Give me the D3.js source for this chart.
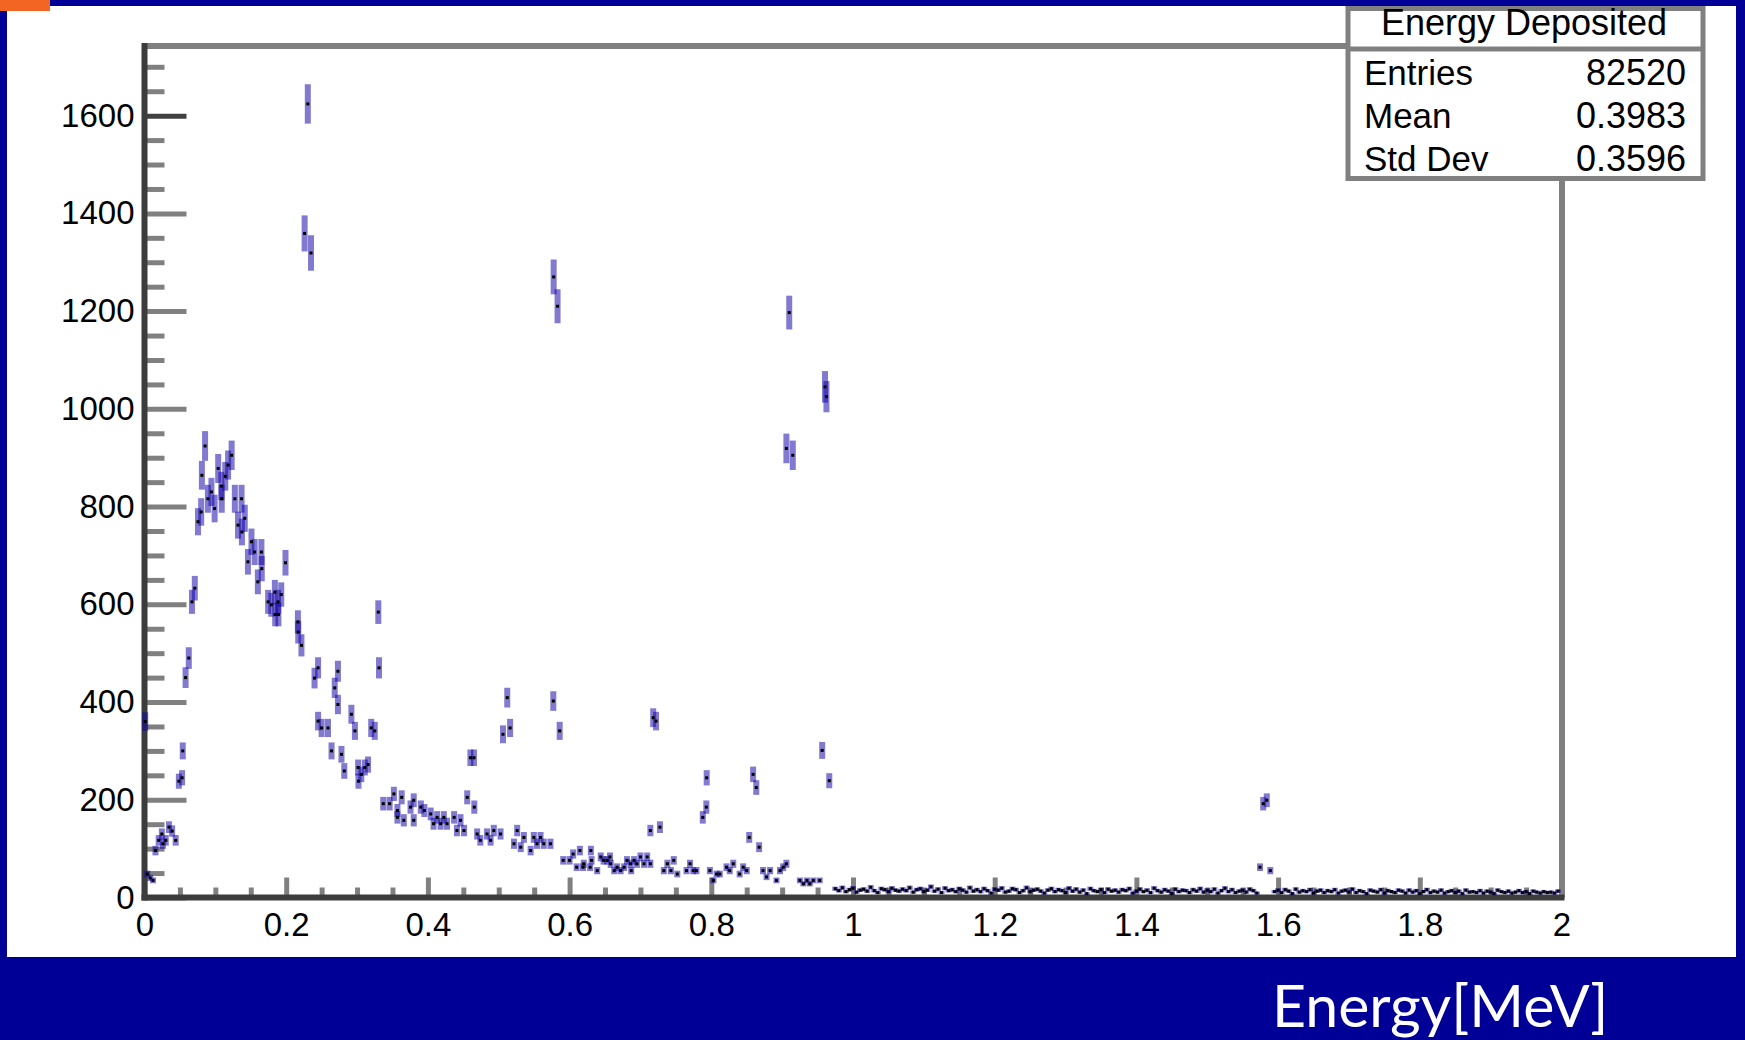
<!DOCTYPE html>
<html>
<head>
<meta charset="utf-8">
<style>

body {
  margin: 0;
  background: #000096;
}

svg {
  display: block;
}

.axis text {
  font-family: "Liberation Sans", Arial, sans-serif;
  font-size: 33px;
  fill: #000;
}

.axis line {
  stroke: #808080;
  stroke-width: 5;
}

.stats text {
  font-family: "Liberation Sans", Arial, sans-serif;
  fill: #000;
}

</style>
</head>
<body>
<svg width="1745" height="1040"></svg>
<script src="https://d3js.org/d3.v7.min.js"></script>
<script>
  // visible bins: bin centre [MeV] and entries
  var energy = [
    0.001, 0.004, 0.008, 0.012, 0.0155, 0.020, 0.0245, 0.026, 0.030, 0.0345, 0.039, 0.044, 0.0485, 0.053, 0.054, 0.058, 0.0625, 0.067, 0.071,
    0.0755, 0.080, 0.081, 0.0855, 0.0895, 0.0945, 0.099, 0.104, 0.1085, 0.109, 0.114, 0.118, 0.123, 0.1275, 0.132, 0.137, 0.1375, 0.1415, 0.146, 0.151, 0.1555, 0.160, 0.165, 0.1655,
    0.1745, 0.179, 0.184, 0.1845, 0.1885, 0.189, 0.193, 0.199, 0.2165, 0.217, 0.2215, 0.226, 0.2305, 0.235, 0.240, 0.245, 0.245, 0.250, 0.259,
    0.264, 0.2685, 0.273, 0.273, 0.278, 0.282, 0.292, 0.297, 0.3015, 0.302, 0.306, 0.311, 0.3155, 0.320, 0.325, 0.330, 0.331,
    0.337, 0.346, 0.352, 0.357, 0.357, 0.363, 0.366, 0.3755, 0.380, 0.380, 0.390, 0.395, 0.404, 0.408, 0.413, 0.418, 0.4225, 0.427, 0.437, 0.441, 0.446, 0.451, 0.4555, 0.460, 0.465, 0.4655, 0.4695,
    0.474, 0.4835, 0.4885, 0.493, 0.5025, 0.506, 0.512, 0.516, 0.5215, 0.526, 0.531, 0.5355, 0.545, 0.5495, 0.554, 0.559, 0.5635, 0.573, 0.577, 0.5775, 0.583, 0.586,
    0.591, 0.600, 0.605, 0.610, 0.6145, 0.619, 0.620, 0.629, 0.630, 0.631, 0.639, 0.644, 0.648, 0.653, 0.657, 0.658, 0.663, 0.667, 0.672, 0.677, 0.681, 0.686, 0.687, 0.691, 0.695, 0.700, 0.705, 0.7095, 0.714, 0.714, 0.718, 0.722, 0.7275,
    0.733, 0.738, 0.743, 0.747, 0.752, 0.765, 0.770, 0.7745, 0.779, 0.788, 0.793, 0.7935, 0.798, 0.803, 0.8075, 0.812, 0.8215, 0.826, 0.831, 0.840, 0.845, 0.850, 0.8535, 0.859, 0.8635, 0.8675,
    0.873, 0.878, 0.883, 0.892, 0.897, 0.9015, 0.906, 0.906, 0.910, 0.915, 0.925, 0.930, 0.935, 0.939, 0.944, 0.953, 0.9565, 0.9605, 0.9625, 0.9665,
    1.5745, 1.579, 1.584, 1.589
  ];

  var counts = [
    360, 48, 40, 35, 96, 117, 130, 110, 117, 144, 136, 117, 238, 245, 300, 450, 490, 605, 633,
    769, 789, 864, 924, 816, 830, 796, 878, 842, 816, 862, 885, 905, 816, 762, 816, 748, 776, 687, 728, 707, 646, 707, 673,
    605, 599, 625, 579, 605, 579, 620, 685, 564, 543, 516, 1359, 1624, 1319, 449, 470, 361, 347, 347,
    300, 429, 463, 395, 293, 259, 375, 341, 266, 238, 252, 266, 272, 347, 341, 584, 470,
    192, 192, 212, 178, 164, 205, 158, 185, 199, 158, 185, 178, 171, 151, 164, 151, 164, 151, 164, 137, 158, 137, 205, 286, 286, 185, 130,
    117, 130, 117, 137, 130, 334, 409, 347, 110, 137, 103, 123, 96, 123, 110, 123, 110, 110, 402, 1270, 1210, 341,
    76, 76, 89, 62, 96, 62, 69, 62, 96, 76, 55, 83, 76, 76, 83, 69, 55, 62, 55, 62, 76, 69, 55, 76, 69, 83, 69, 83, 69, 137, 368, 361, 144,
    55, 69, 55, 76, 48, 55, 69, 55, 55, 164, 185, 245, 55, 35, 48, 48, 62, 55, 69, 48, 62, 55, 123, 252, 225, 103,
    55, 42, 55, 35, 55, 62, 69, 919, 1197, 905, 35, 28, 35, 28, 35, 35, 301, 1045, 1025, 239,
    62, 192, 199, 55
  ];

  // low tail, one value per 0.005 MeV bin starting at 0.975 MeV
  var tailFrom = 0.975,
    binWidth = 0.005;
  var tailCounts = [
    18, 14, 20, 12, 16, 19, 11, 15, 17, 13, 21, 14, 10, 18, 16, 12, 19, 15, 13, 17,
    14, 20, 11, 16, 18, 12, 15, 22, 13, 17, 10, 19, 14, 16, 12, 18, 15, 11, 20, 13,
    16, 12, 18, 14, 9, 17, 15, 19, 11, 13, 18, 16, 10, 14, 20, 12, 15, 17, 13, 9,
    15, 18, 12, 16, 14, 10, 19, 13, 17, 11, 15, 8, 18, 14, 12, 16, 10, 17, 13, 15,
    11, 16, 14, 18, 9, 13, 17, 12, 15, 10, 19, 14, 11, 16, 13, 8, 17, 12, 15, 14,
    10, 16, 13, 18, 11, 15, 12, 17, 9, 14, 19, 12, 16, 10, 13, 15, 11, 17, 14, 9,
    0, 0, 0, 0, 12, 15, 10, 16, 13, 8, 17, 11, 14, 12, 16, 9, 13, 15, 10, 14,
    12, 16, 9, 13, 15, 11, 17, 10, 14, 12, 8, 15, 13, 11, 16, 9, 14, 12, 10, 15,
    13, 9, 15, 11, 14, 8, 12, 16, 10, 13, 11, 15, 9, 12, 14, 10, 13, 8, 15, 11,
    12, 10, 14, 9, 13, 11, 8, 15, 12, 10, 13, 9, 11, 14, 10, 12, 8, 13, 11, 9,
    12, 10, 11, 9, 13
  ];

  var xTicks = [0, 0.2, 0.4, 0.6, 0.8, 1, 1.2, 1.4, 1.6, 1.8, 2];
  var xTickLabels = ["0", "0.2", "0.4", "0.6", "0.8", "1", "1.2", "1.4", "1.6", "1.8", "2"];
  var yTicks = [0, 200, 400, 600, 800, 1000, 1200, 1400, 1600];
  var yTickLabels = ["0", "200", "400", "600", "800", "1000", "1200", "1400", "1600"];

  var histTitle = "Energy Deposited";
  var statNames = ["Entries", "Mean", "Std Dev"];
  var statValues = ["82520", "0.3983", "0.3596"];
  var axisTitle = "Energy[MeV]";

  var svg = d3.select("svg");

  // slide background
  svg.append("rect")
    .attr("x", 7).attr("y", 6)
    .attr("width", 1729).attr("height", 951)
    .attr("fill", "#fff");
  svg.append("rect")
    .attr("width", 50).attr("height", 11)
    .attr("fill", "#f26522");

  var x = d3.scaleLinear().domain([0, 2]).range([144.5, 1561.5]),
    y = d3.scaleLinear().domain([0, 1745]).range([897.5, 44.8]);

  // frame
  svg.append("line")
    .attr("x1", 144.5).attr("x2", 1348).attr("y1", 46).attr("y2", 46)
    .attr("stroke", "#808080").attr("stroke-width", 6);
  svg.append("line")
    .attr("x1", 1562).attr("x2", 1562).attr("y1", 179).attr("y2", 897.5)
    .attr("stroke", "#808080").attr("stroke-width", 6);

  var xMinor = d3.range(0, 2.001, 0.05).filter(function(d) { return Math.abs(d * 5 - Math.round(d * 5)) > 1e-6; }),
    yMinor = d3.range(0, 1745, 50).filter(function(d) { return d % 200 != 0; });

  svg.append("g")
    .attr("class", "axis")
    .attr("transform", "translate(0,897.5)")
    .call(d3.axisBottom(x).tickValues(xMinor).tickSizeInner(-10).tickSizeOuter(0).tickFormat(""))
    .call(function(g) { g.select(".domain").remove(); });

  svg.append("g")
    .attr("class", "axis")
    .attr("transform", "translate(0,897.5)")
    .call(d3.axisBottom(x).tickValues(xTicks).tickSizeInner(-20).tickSizeOuter(0).tickPadding(15)
      .tickFormat(function(d, i) { return xTickLabels[i]; }))
    .call(function(g) { g.select(".domain").remove(); });

  svg.append("g")
    .attr("class", "axis")
    .attr("transform", "translate(144.5,0)")
    .call(d3.axisLeft(y).tickValues(yMinor).tickSizeInner(-20).tickSizeOuter(0).tickFormat(""))
    .call(function(g) { g.select(".domain").remove(); });

  var gy = svg.append("g")
    .attr("class", "axis")
    .attr("transform", "translate(144.5,0)")
    .call(d3.axisLeft(y).tickValues(yTicks).tickSizeInner(-42).tickSizeOuter(0).tickPadding(10)
      .tickFormat(function(d, i) { return yTickLabels[i]; }))
    .call(function(g) { g.select(".domain").remove(); });
  gy.selectAll(".tick").filter(function(d) { return d == 1600; })
    .select("line").style("stroke", "#404040");

  // axis lines
  svg.append("line")
    .attr("x1", 144.5).attr("x2", 144.5).attr("y1", 43).attr("y2", 900.5)
    .attr("stroke", "#3c3c3c").attr("stroke-width", 6);
  svg.append("line")
    .attr("x1", 141.5).attr("x2", 1564.5).attr("y1", 897.5).attr("y2", 897.5)
    .attr("stroke", "#3c3c3c").attr("stroke-width", 6);

  // histogram points with sqrt(N) error bars
  var pts = energy.map(function(e, i) { return {e: e, n: counts[i]}; });
  tailCounts.forEach(function(n, i) {
    if (n > 0) pts.push({e: tailFrom + i * binWidth, n: n});
  });

  var gd = svg.append("g");
  gd.selectAll("rect.err")
    .data(pts)
    .enter().append("rect")
    .attr("class", "err")
    .attr("x", function(d) { return x(d.e) - 3; })
    .attr("width", 6)
    .attr("y", function(d) { return y(d.n + Math.sqrt(d.n)); })
    .attr("height", function(d) { return Math.max(3, y(d.n - Math.sqrt(d.n)) - y(d.n + Math.sqrt(d.n))); })
    .attr("fill", "rgba(15,0,165,0.52)");
  gd.selectAll("rect.pt")
    .data(pts)
    .enter().append("rect")
    .attr("class", "pt")
    .attr("x", function(d) { return x(d.e) - 1.5; })
    .attr("y", function(d) { return y(d.n) - 1.5; })
    .attr("width", 3)
    .attr("height", 3)
    .attr("fill", "#000");

  // stats box
  var stats = svg.append("g").attr("class", "stats");
  stats.append("rect")
    .attr("x", 1348).attr("y", 8.5)
    .attr("width", 355).attr("height", 170)
    .attr("fill", "#fff")
    .attr("stroke", "#808080").attr("stroke-width", 5);
  stats.append("line")
    .attr("x1", 1348).attr("x2", 1703).attr("y1", 49).attr("y2", 49)
    .attr("stroke", "#808080").attr("stroke-width", 5);
  stats.append("text")
    .attr("x", 1524).attr("y", 35)
    .attr("text-anchor", "middle")
    .style("font-size", "36px")
    .text(histTitle);
  statNames.forEach(function(name, i) {
    stats.append("text")
      .attr("x", 1364).attr("y", 85 + i * 43)
      .style("font-size", "35px")
      .text(name);
    stats.append("text")
      .attr("x", 1686).attr("y", 85 + i * 43)
      .attr("text-anchor", "end")
      .style("font-size", "36px")
      .text(statValues[i]);
  });

  // slide caption
  svg.append("text")
    .attr("x", 1272).attr("y", 1027)
    .attr("fill", "#fff")
    .style("font-family", "Lato, 'Open Sans', sans-serif")
    .style("font-size", "59px")
    .text(axisTitle);
</script>
</body>
</html>
